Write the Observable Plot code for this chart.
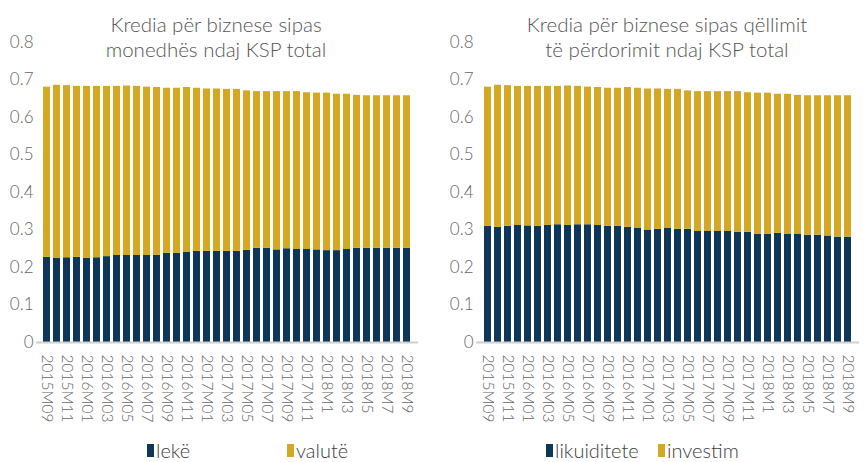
<!DOCTYPE html>
<html>
<head>
<meta charset="utf-8">
<script src="https://cdn.jsdelivr.net/npm/d3@7"></script>
<script src="https://cdn.jsdelivr.net/npm/@observablehq/plot@0.6"></script>
<style>
  body { margin: 0; background: #fff; font-family: Lato, "Open Sans", sans-serif; }
  #wrap { position: relative; width: 867px; height: 462px; overflow: hidden; }
  .panel { position: absolute; top: 0; }
  .title { position: absolute; top: 12px; transform: translateX(-50%); white-space: nowrap;
           text-align: center; font-size: 20.5px; font-weight: 300; color: #555; line-height: 25px; }
  .leg { position: absolute; top: 438px; display: flex; align-items: center; font-size: 20px;
         font-weight: 300; color: #404040; }
  .sw { display: inline-block; width: 7px; height: 13px; margin-right: 2px; }
</style>
</head>
<body>
<div id="wrap"></div>
<script>
const months = ["2015M09","2015M10","2015M11","2015M12","2016M01","2016M02","2016M03","2016M04","2016M05","2016M06","2016M07","2016M08","2016M09","2016M10","2016M11","2016M12","2017M01","2017M02","2017M03","2017M04","2017M05","2017M06","2017M07","2017M08","2017M09","2017M10","2017M11","2017M12","2018M1","2018M2","2018M3","2018M4","2018M5","2018M6","2018M7","2018M8","2018M9"];
const tickLabels = ["2015M09","2015M11","2016M01","2016M03","2016M05","2016M07","2016M09","2016M11","2017M01","2017M03","2017M05","2017M07","2017M09","2017M11","2018M1","2018M3","2018M5","2018M7","2018M9"];
const yTicks = [0, 0.1, 0.2, 0.3, 0.4, 0.5, 0.6, 0.7, 0.8];

// Panel 1: by currency
const leke   = [0.227,0.225,0.226,0.227,0.225,0.226,0.229,0.232,0.232,0.232,0.232,0.233,0.238,0.238,0.241,0.243,0.243,0.243,0.243,0.243,0.246,0.251,0.251,0.247,0.250,0.248,0.248,0.247,0.245,0.245,0.248,0.251,0.251,0.251,0.251,0.251,0.251];
const valute = [0.454,0.461,0.459,0.456,0.458,0.457,0.454,0.451,0.452,0.451,0.449,0.447,0.440,0.440,0.439,0.435,0.433,0.433,0.432,0.432,0.425,0.418,0.418,0.422,0.419,0.421,0.418,0.418,0.420,0.417,0.414,0.408,0.407,0.407,0.407,0.407,0.407];

// Panel 2: by purpose
const likuiditete = [0.310,0.307,0.310,0.312,0.311,0.310,0.312,0.314,0.312,0.314,0.314,0.312,0.310,0.310,0.307,0.304,0.300,0.302,0.304,0.302,0.302,0.296,0.296,0.296,0.296,0.294,0.294,0.289,0.289,0.291,0.288,0.288,0.286,0.286,0.284,0.281,0.281];
const investim    = [0.371,0.379,0.375,0.371,0.372,0.373,0.371,0.369,0.372,0.369,0.367,0.368,0.368,0.368,0.373,0.374,0.376,0.374,0.371,0.373,0.369,0.373,0.373,0.373,0.373,0.375,0.372,0.376,0.376,0.371,0.374,0.371,0.372,0.372,0.374,0.377,0.377];

const navy = "#0e3659", gold = "#d5a823";

function makePanel({left, width, marginLeft, marginRight, names, a, b, titleLines, titleCenter, legendItems}) {
  const rows = [];
  months.forEach((m, i) => {
    rows.push({month: m, series: names[0], value: a[i]});
    rows.push({month: m, series: names[1], value: b[i]});
  });
  const chart = Plot.plot({
    width, height: 440,
    marginLeft, marginRight, marginTop: 42, marginBottom: 98,
    style: {fontFamily: "Lato, 'Open Sans', sans-serif", fontSize: "16px", color: "#666", background: "transparent"},
    x: {domain: months, paddingInner: 0.27, paddingOuter: 0.12, label: null, tickSize: 0, tickPadding: 12,
        tickRotate: 90, ticks: tickLabels},
    y: {domain: [0, 0.8], ticks: yTicks, tickFormat: d => d === 0 ? "0" : d3.format(".1f")(d),
        label: null, tickSize: 0, tickPadding: 3},
    color: {domain: names, range: [navy, gold]},
    marks: [
      Plot.barY(rows, {x: "month", y: "value", fill: "series"}),
      Plot.ruleY([0], {stroke: "#cfcfcf", strokeWidth: 1.8})
    ]
  });
  chart.querySelectorAll('g[aria-label="x-axis tick label"] text').forEach(t => { t.style.fontSize = "15.5px"; t.style.fontWeight = "300"; });
  chart.querySelectorAll('g[aria-label="y-axis tick label"] text').forEach(t => { t.style.fontSize = "17px"; t.style.fontWeight = "300"; });
  const p = document.createElement("div");
  p.className = "panel";
  p.style.left = left + "px";
  p.appendChild(chart);
  document.getElementById("wrap").appendChild(p);

  const t = document.createElement("div");
  t.className = "title";
  t.style.left = titleCenter + "px";
  t.innerHTML = titleLines.join("<br>");
  document.getElementById("wrap").appendChild(t);

  legendItems.forEach(([x, name, color]) => {
    const l = document.createElement("div");
    l.className = "leg";
    l.style.left = x + "px";
    l.innerHTML = `<span class="sw" style="background:${color}"></span><span>${name}</span>`;
    document.getElementById("wrap").appendChild(l);
  });
}

makePanel({left: 0, width: 433, marginLeft: 36, marginRight: 15, names: ["lekë", "valutë"], a: leke, b: valute,
  titleLines: ["Kredia për biznese sipas", "monedhës ndaj KSP total"], titleCenter: 216,
  legendItems: [[147, "lekë", navy], [287, "valutë", gold]]});
makePanel({left: 433, width: 434, marginLeft: 43, marginRight: 8, names: ["likuiditete", "investim"], a: likuiditete, b: investim,
  titleLines: ["Kredia për biznese sipas qëllimit", "të përdorimit ndaj KSP total"], titleCenter: 667,
  legendItems: [[546, "likuiditete", navy], [658, "investim", gold]]});
</script>
</body>
</html>
